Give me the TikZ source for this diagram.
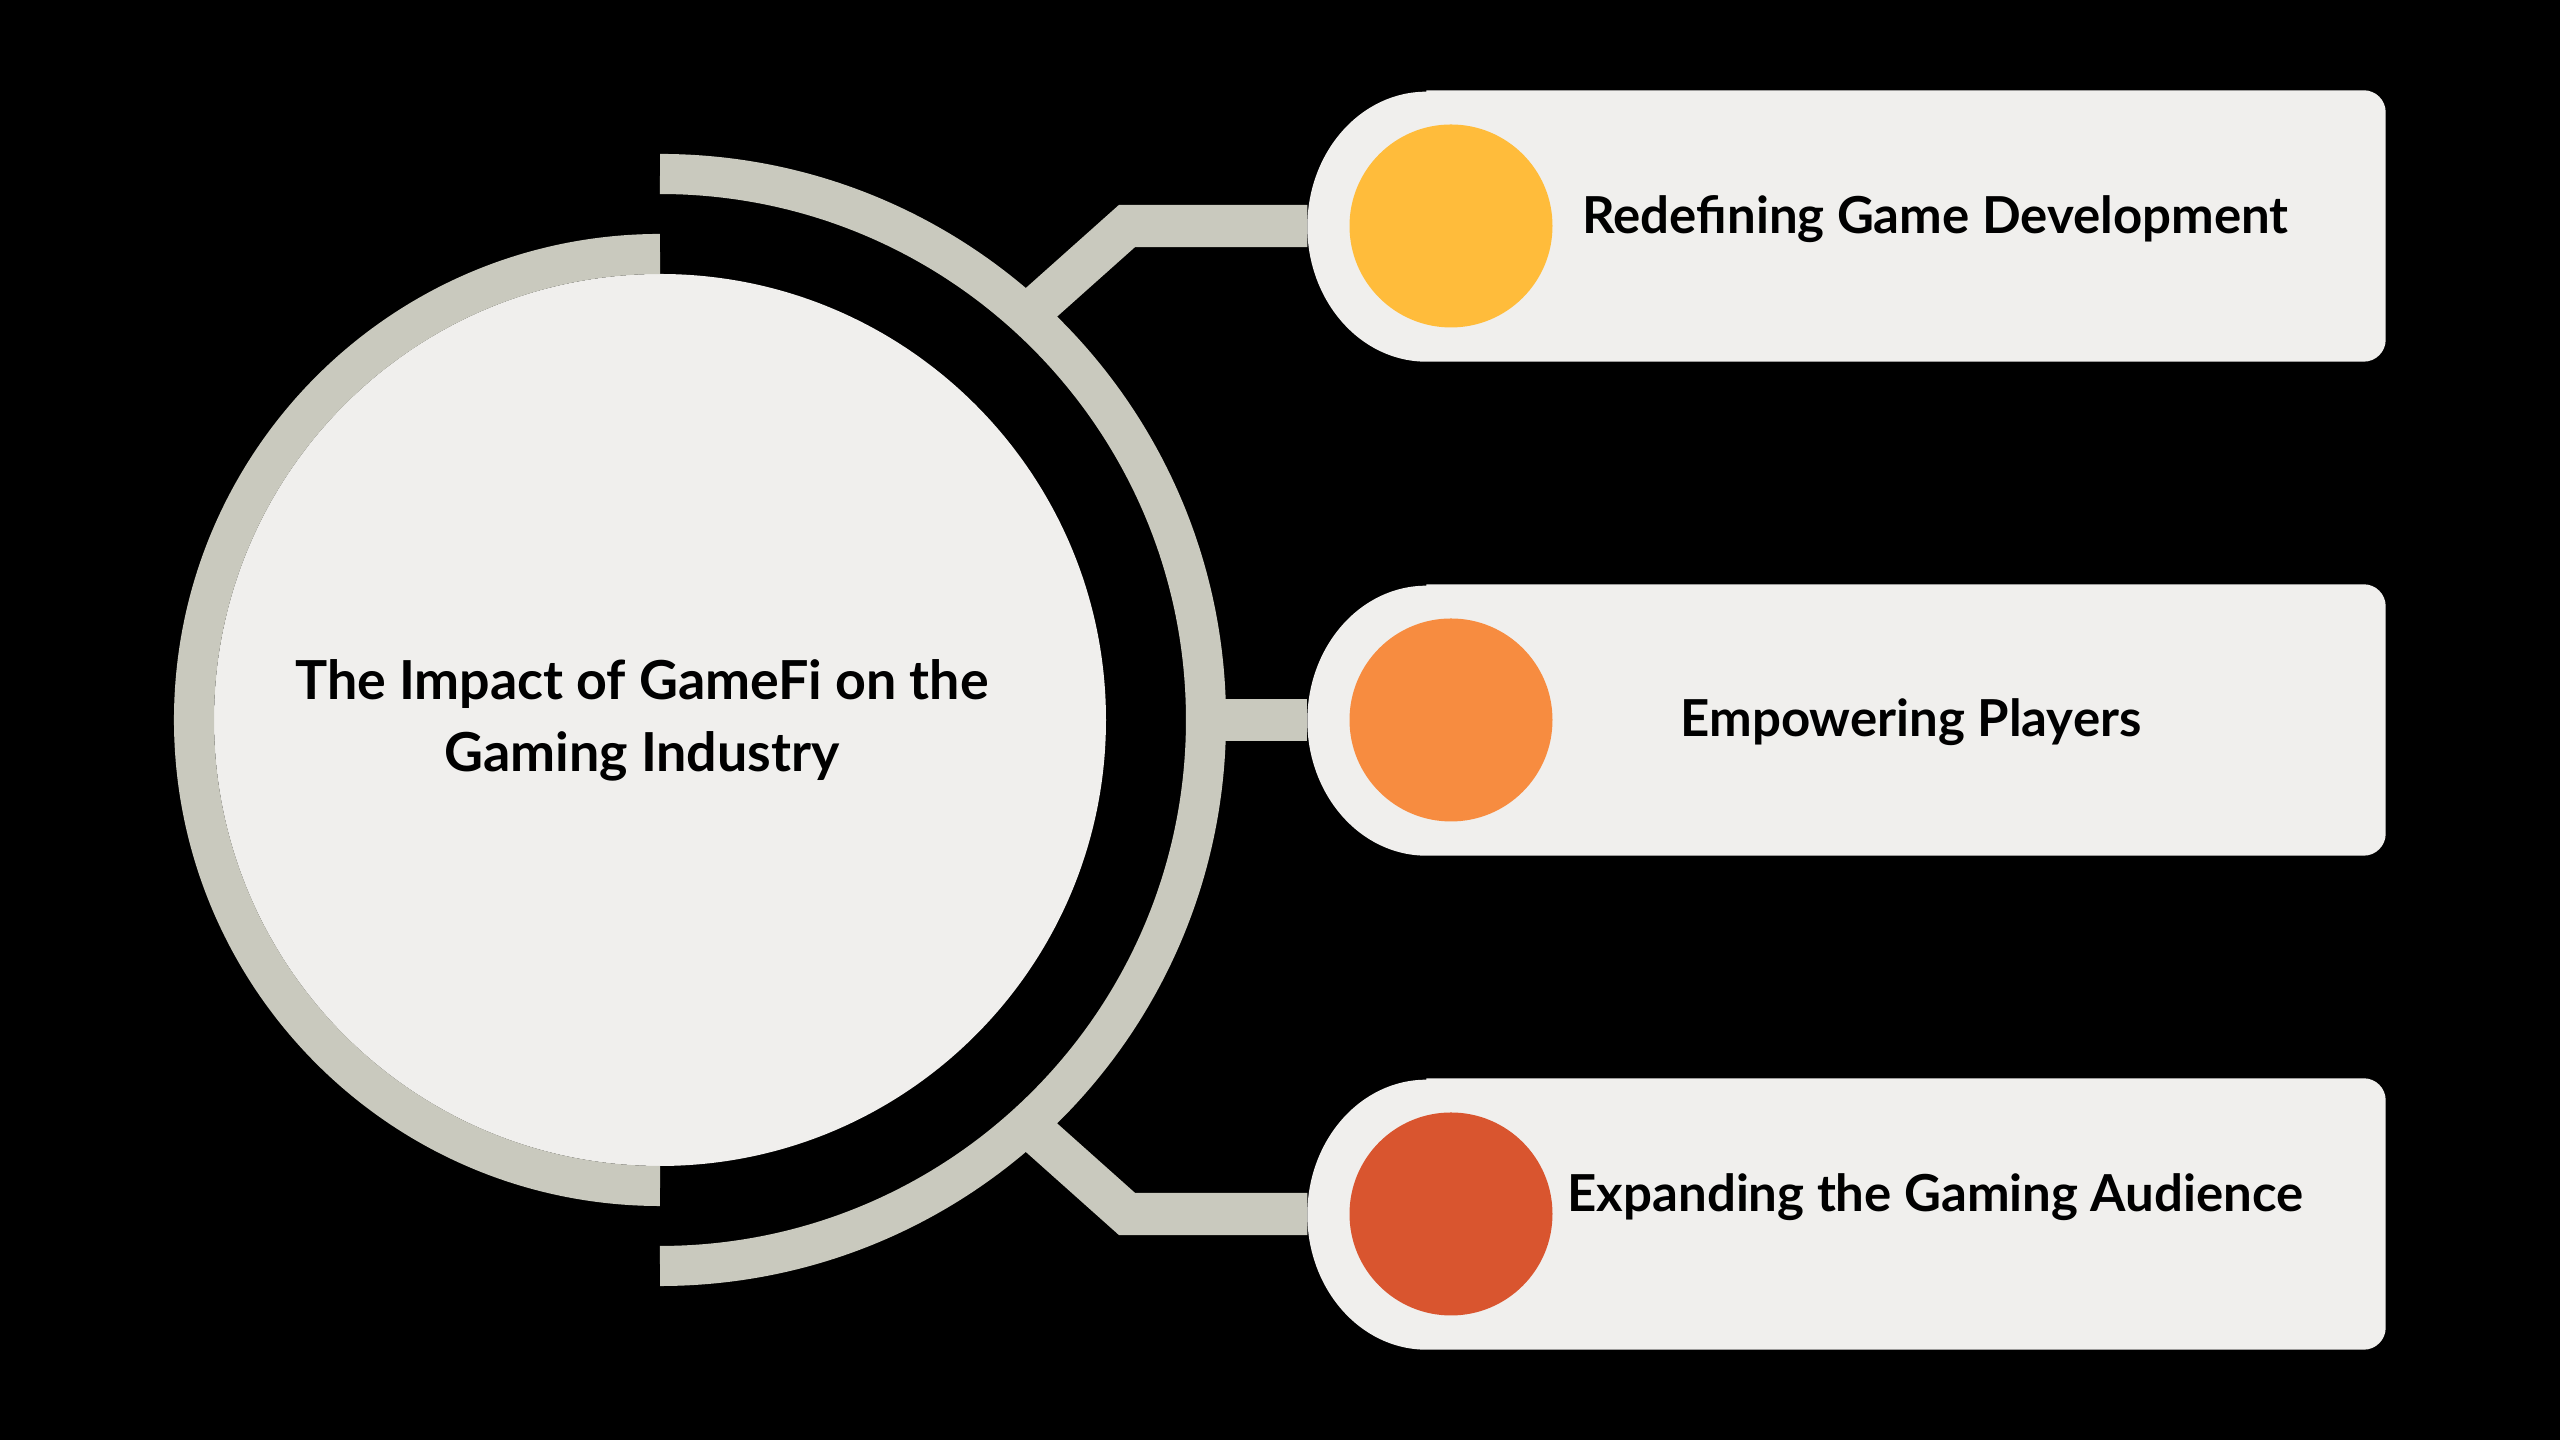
\documentclass[tikz,border=0pt]{standalone}
\usepackage{fontspec}
\setmainfont{Lato}
\usetikzlibrary{calc}
\definecolor{ringgray}{HTML}{C9C9BE}
\definecolor{lightbg}{HTML}{F0EFED}
\definecolor{cyel}{HTML}{FFBC3B}
\definecolor{corg}{HTML}{F78C40}
\definecolor{cred}{HTML}{D9552F}
\newcommand\gfbox[1]{\fill[lightbg] ($(#1.north west)+(119,0)$) -- ($(#1.north east)+(-22,0)$) arc[start angle=90,end angle=0,radius=22] -- ($(#1.south east)+(0,22)$) arc[start angle=0,end angle=-90,radius=22] -- ($(#1.south west)+(119,0)$) arc[start angle=270,end angle=90,x radius=119,y radius=135] -- cycle;}
\begin{document}
\begin{tikzpicture}[x=0.1mm,y=0.1mm,
  ring/.style={draw=ringgray,line width=11.4pt},
  conn/.style={draw=ringgray,line width=12pt,miter limit=10},
  boxframe/.style={minimum width=107.7mm,minimum height=27mm,inner sep=0pt},
  dot/.style={circle,minimum size=20.3mm,inner sep=0pt},
  lbl/.style={font=\fontsize{14.5}{17}\selectfont\bfseries,text=black,inner sep=0pt,anchor=base}
]
\useasboundingbox (0,0) rectangle (2560,1440);
\fill[black] (0,0) rectangle (2560,1440);

% central circle
\coordinate (C) at (660,720);
\node[circle,fill=lightbg,minimum size=89.2mm,inner sep=0pt] (hub) at (C) {};
\draw[ring] (660,1186) arc[start angle=90,end angle=270,radius=466];
\draw[ring] (660,1266) arc[start angle=90,end angle=-90,radius=546];

% box anchors
\node[boxframe] (box1) at (1846.5,1214) {};
\node[boxframe] (box2) at (1846.5,720) {};
\node[boxframe] (box3) at (1846.5,226) {};

% connectors
\coordinate (a1) at (1026.7,1124.5);
\coordinate (k1) at (1127,1214);
\coordinate (a2) at (1206,720);
\coordinate (a3) at (1026.7,315.5);
\coordinate (k3) at (1127,226);
\draw[conn] (a1) -- (k1) -- (box1.west);
\draw[conn] (a2) -- (box2.west);
\draw[conn] (a3) -- (k3) -- (box3.west);

% boxes
\gfbox{box1}
\gfbox{box2}
\gfbox{box3}

% coloured dots
\node[dot,fill=cyel] (d1) at (1451,1214) {};
\node[dot,fill=corg] (d2) at (1451,720) {};
\node[dot,fill=cred] (d3) at (1451,226) {};

% labels
\node[lbl] (t1) at (1935.5,1206) {Redefining Game Development};
\node[lbl] (t2) at (1911,703.3) {Empowering Players};
\node[lbl] (t3) at (1935.5,228.3) {Expanding the Gaming Audience};
\node[font=\fontsize{15.3}{20.4}\selectfont\bfseries,text=black,inner sep=0pt,align=center,anchor=base] (title) at (642,668.3) {The Impact of GameFi on the\\Gaming Industry};
\end{tikzpicture}
\end{document}
